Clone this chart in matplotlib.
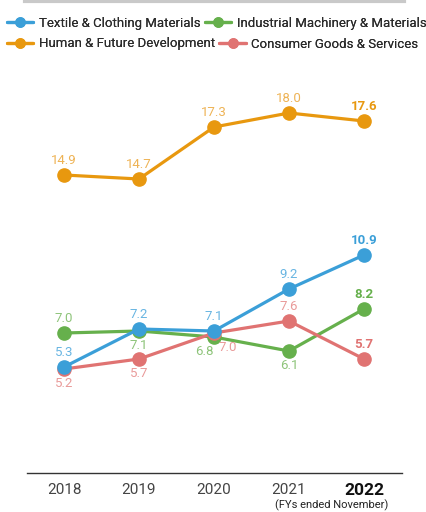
import matplotlib.pyplot as plt
from matplotlib.lines import Line2D

plt.rcParams['font.family'] = ['Roboto', 'DejaVu Sans']

years = ['2018', '2019', '2020', '2021', '2022']
textile = [5.3, 7.2, 7.1, 9.2, 10.9]
industrial = [7.0, 7.1, 6.8, 6.1, 8.2]
human = [14.9, 14.7, 17.3, 18.0, 17.6]
consumer = [5.2, 5.7, 7.0, 7.6, 5.7]

# name, values, line colour, label colour, label offsets (dx, dy in points) per year
series = [
    ('Human & Future Development', human, '#e8980f', '#eeb355',
     [(0, 6)] * 5),
    ('Industrial Machinery & Materials', industrial, '#66b04c', '#8ec47a',
     [(0, 6), (0, -6), (-7, -6), (0, -6), (0, 6)]),
    ('Consumer Goods & Services', consumer, '#e07372', '#e99a99',
     [(0, -6), (0, -6), (10, -6), (0, 6), (0, 6)]),
    ('Textile & Clothing Materials', textile, '#3b9fd8', '#68b5e2',
     [(0, 6)] * 5),
]

fig = plt.figure(figsize=(4.26, 5.12), dpi=100)
ax = fig.add_axes([26.5 / 426, 39 / 512, 375 / 426, 400 / 512])

x = list(range(len(years)))
handles = {}
for name, vals, col, lcol, offs in series:
    ln, = ax.plot(x, vals, color=col, lw=2.3, marker='o', ms=9.5,
                  solid_capstyle='round', zorder=3)
    handles[name] = ln
    for i, v in enumerate(vals):
        last = i == len(vals) - 1
        dx, dy = offs[i]
        ax.annotate(f'{v:.1f}', (i, v), xytext=(dx, dy), textcoords='offset points',
                    ha='center', va='bottom' if dy > 0 else 'top',
                    color=col if last else lcol, fontsize=9.5,
                    fontweight='bold' if last else 'normal')

ax.set_xlim(-0.5, 4.5)
ax.set_ylim(0, 20)
ax.set_yticks([])
ax.set_xticks(x)
ax.set_xticklabels(years, fontsize=11, color='#444444')
ax.get_xticklabels()[-1].set_fontweight('bold')
ax.get_xticklabels()[-1].set_fontsize(12.5)
ax.get_xticklabels()[-1].set_color('#111111')
ax.tick_params(axis='x', length=0, pad=7)
for s in ['top', 'left', 'right']:
    ax.spines[s].set_visible(False)
ax.spines['bottom'].set_color('#333333')
ax.spines['bottom'].set_linewidth(1.0)

fig.text(388 / 426, 1 / 512, '(FYs ended November)', ha='right', va='bottom',
         fontsize=8.0, color='#222222')

# grey rule across the top
fig.add_artist(Line2D([25 / 426, 404 / 426], [511 / 512, 511 / 512],
                      color='#c9c9c9', lw=3))

# legend laid out as two independent rows
rows = [(['Textile & Clothing Materials', 'Industrial Machinery & Materials'], 489),
        (['Human & Future Development', 'Consumer Goods & Services'], 468)]
for names, ypix in rows:
    leg = fig.legend([handles[n] for n in names], names, loc='center left',
                     bbox_to_anchor=(7 / 426, ypix / 512), ncol=2, frameon=False,
                     fontsize=9.5, handlelength=2.0, handletextpad=0.4,
                     columnspacing=0.35, borderpad=0, borderaxespad=0,
                     markerscale=0.7)
    for t in leg.get_texts():
        t.set_color('#2b2b2b')
    fig.add_artist(leg)

fig.savefig('out.png', dpi=100)
